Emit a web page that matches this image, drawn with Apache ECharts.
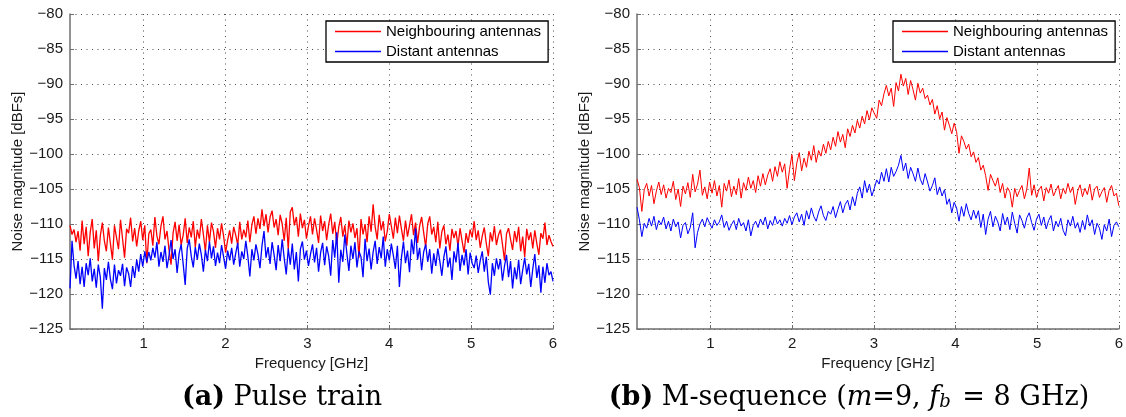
<!DOCTYPE html>
<html>
<head>
<meta charset="utf-8">
<script src="https://cdn.jsdelivr.net/npm/echarts@6/dist/echarts.min.js"></script>
<style>
  html, body { margin: 0; padding: 0; background: #fff; }
  #chart { width: 1126px; height: 417px; }
</style>
</head>
<body>
<div id="chart"></div>
<script>
// Frequency span of the measured spectra (GHz)
const FREQ_MIN = 0.1;
const FREQ_MAX = 6;
const freqTicks = [1, 2, 3, 4, 5, 6];

const seriesNames = ['Neighbouring antennas', 'Distant antennas'];

// (a) Pulse train — noise magnitude [dBFs], evenly spaced over the band
const pulseNeighbouring = [
  -110.2,-111.5,-110.8,-112.6,-111.0,-113.8,-109.5,-112.9,-110.4,-114.6,-111.2,-109.3,-113.5,-110.9,-115.3,-111.7,-109.8,-112.4,-113.9,-110.5,
  -112.8,-115.1,-110.2,-111.9,-113.6,-109.4,-112.1,-114.8,-110.7,-111.3,-109.1,-112.5,-110.6,-113.2,-111.0,-109.6,-112.3,-110.2,-115.6,-111.4,
  -110.8,-113.1,-109.0,-111.7,-112.9,-110.3,-108.9,-112.2,-111.0,-113.7,-115.8,-111.3,-109.7,-112.4,-110.1,-113.0,-111.6,-109.2,-112.7,-110.5,
  -111.9,-109.6,-113.3,-110.8,-112.1,-109.3,-111.5,-113.9,-110.2,-112.6,-109.8,-111.1,-113.4,-110.6,-112.2,-109.9,-111.7,-114.1,-112.3,-110.9,
  -112.8,-110.4,-111.6,-113.0,-109.7,-112.2,-110.8,-111.9,-109.5,-112.6,-110.1,-108.9,-111.4,-109.2,-110.7,-107.9,-110.3,-108.6,-111.2,-109.0,
  -108.1,-110.5,-109.3,-111.6,-108.7,-110.0,-112.4,-109.1,-113.6,-108.3,-107.6,-110.2,-109.0,-111.8,-108.5,-110.6,-109.4,-112.1,-110.3,-108.9,
  -111.5,-109.2,-110.8,-112.7,-108.8,-111.0,-109.6,-112.3,-110.1,-108.5,-111.4,-109.7,-112.9,-110.4,-109.0,-111.8,-110.2,-113.1,-109.5,-111.2,
  -109.9,-112.0,-110.6,-114.8,-109.3,-111.5,-110.0,-112.6,-108.9,-111.1,-107.2,-110.4,-112.2,-108.7,-110.9,-109.6,-112.5,-111.0,-108.6,-110.3,
  -112.1,-109.1,-111.3,-108.8,-110.7,-112.4,-109.5,-111.8,-110.2,-108.6,-111.6,-109.8,-112.7,-110.3,-109.0,-111.2,-113.3,-110.0,-108.9,-111.5,
  -110.4,-112.6,-109.7,-113.5,-111.1,-110.2,-112.9,-111.5,-113.8,-110.7,-112.0,-111.0,-113.2,-110.6,-112.4,-114.1,-111.3,-112.7,-110.8,-111.9,
  -109.6,-112.3,-110.9,-113.4,-111.7,-110.5,-112.8,-114.6,-111.2,-112.5,-110.3,-113.0,-111.6,-110.8,-112.9,-115.2,-111.4,-110.6,-112.2,-113.7,
  -111.0,-112.6,-110.4,-113.9,-111.8,-114.7,-110.7,-112.3,-111.2,-113.5,-110.9,-112.8,-114.4,-111.3,-112.1,-109.8,-113.0,-111.6,-112.5,-113.2
];
const pulseDistant = [
  -119.2,-112.4,-115.9,-117.8,-115.3,-118.6,-116.1,-119.0,-115.6,-117.3,-114.9,-118.2,-116.4,-119.1,-115.8,-117.6,-122.1,-116.3,-118.0,-115.4,
  -117.9,-119.3,-115.8,-118.5,-116.6,-117.4,-115.7,-118.9,-116.2,-117.1,-119.0,-116.0,-117.7,-115.1,-116.8,-114.3,-116.1,-113.9,-115.5,-114.0,
  -115.2,-113.4,-114.8,-112.6,-116.1,-114.0,-115.4,-113.1,-116.3,-114.5,-112.3,-115.0,-113.6,-117.0,-114.2,-112.9,-115.7,-118.7,-113.5,-112.2,
  -114.6,-116.2,-113.3,-115.1,-112.8,-114.4,-116.8,-113.7,-115.3,-112.5,-114.9,-113.2,-116.0,-114.1,-115.6,-113.0,-114.7,-116.4,-113.8,-115.2,
  -113.4,-115.8,-114.2,-112.7,-116.1,-113.9,-115.0,-112.4,-114.6,-117.5,-113.6,-115.2,-112.9,-114.3,-116.3,-113.1,-111.0,-114.8,-113.3,-115.7,
  -112.6,-114.4,-116.6,-113.0,-115.3,-112.2,-114.9,-117.2,-113.5,-115.8,-112.8,-116.5,-114.0,-118.2,-113.6,-112.5,-115.1,-113.8,-116.0,-114.3,
  -112.9,-115.5,-113.4,-116.8,-114.1,-112.7,-115.9,-113.2,-114.6,-117.4,-112.3,-114.8,-111.2,-118.4,-113.7,-115.4,-111.5,-114.2,-116.7,-113.1,
  -115.0,-112.6,-116.2,-113.9,-114.7,-117.6,-112.1,-115.3,-113.5,-116.5,-114.0,-112.4,-115.7,-113.3,-114.9,-111.8,-116.1,-113.6,-115.2,-112.8,
  -114.5,-116.4,-113.1,-119.0,-114.8,-112.5,-115.6,-113.8,-116.9,-112.2,-114.3,-110.6,-115.1,-113.4,-116.6,-114.0,-112.9,-115.4,-113.6,-117.1,
  -114.2,-116.0,-113.5,-115.3,-117.4,-114.7,-113.2,-116.2,-114.8,-118.0,-113.9,-115.5,-112.7,-116.7,-114.4,-115.9,-113.6,-117.2,-114.1,-115.6,
  -116.3,-114.5,-117.0,-115.2,-113.9,-116.8,-114.7,-118.3,-120.1,-115.6,-117.4,-114.9,-116.5,-115.0,-118.1,-116.0,-114.4,-117.6,-115.3,-119.2,
  -116.2,-117.9,-115.1,-118.6,-116.6,-114.8,-117.2,-115.7,-119.0,-116.4,-114.3,-117.7,-115.9,-119.8,-116.1,-118.4,-115.6,-117.3,-116.8,-118.2
];

// (b) M-sequence (m = 9, fb = 8 GHz) — noise magnitude [dBFs]
const mseqNeighbouring = [
  -103.6,-104.8,-108.2,-105.1,-104.2,-106.0,-104.5,-107.1,-105.3,-104.0,-105.8,-104.4,-106.3,-104.9,-105.5,-103.9,-106.5,-105.0,-107.5,-104.6,
  -105.7,-104.1,-106.2,-102.9,-105.4,-104.3,-102.3,-105.9,-104.7,-106.4,-104.0,-105.6,-103.8,-106.0,-104.5,-107.6,-104.2,-105.3,-103.7,-106.1,
  -104.6,-105.8,-103.5,-106.3,-104.1,-105.2,-103.3,-104.9,-103.8,-105.5,-103.1,-104.6,-102.8,-104.4,-103.0,-102.1,-103.9,-101.8,-103.2,-101.1,
  -102.6,-101.4,-104.9,-102.2,-100.1,-103.8,-101.3,-99.8,-102.4,-100.6,-101.9,-99.6,-100.9,-98.8,-101.2,-99.5,-100.3,-98.6,-99.9,-98.2,
  -99.4,-97.6,-98.9,-96.8,-98.3,-97.2,-99.1,-96.4,-97.5,-95.9,-97.0,-95.2,-96.3,-94.6,-95.7,-93.8,-95.1,-93.4,-94.2,-94.9,
  -92.3,-93.1,-91.4,-90.2,-91.7,-90.6,-93.2,-89.8,-91.0,-88.6,-90.3,-89.2,-91.5,-89.5,-90.8,-92.3,-89.9,-91.3,-90.6,-92.1,
  -91.6,-93.0,-92.2,-94.3,-93.1,-95.0,-94.0,-96.6,-94.8,-95.9,-97.1,-95.6,-96.8,-99.9,-97.4,-98.2,-99.3,-98.6,-100.4,-99.7,
  -101.2,-100.5,-102.3,-101.6,-103.1,-105.2,-102.9,-103.8,-104.6,-103.4,-105.5,-104.2,-106.3,-104.8,-105.4,-107.6,-104.9,-106.1,-105.2,-104.5,
  -106.4,-105.0,-102.0,-105.9,-104.4,-106.2,-105.1,-104.6,-106.7,-104.8,-105.6,-104.3,-106.0,-105.2,-104.5,-106.4,-104.9,-105.7,-104.2,-105.5,
  -104.7,-107.2,-105.3,-104.4,-106.1,-104.9,-105.8,-104.3,-106.6,-105.0,-104.6,-106.2,-105.4,-104.8,-106.9,-105.2,-104.5,-106.0,-105.6,-107.4
];
const mseqDistant = [
  -107.6,-109.4,-111.8,-109.9,-110.6,-109.2,-110.3,-108.9,-110.8,-109.5,-110.1,-109.0,-110.7,-109.6,-111.0,-109.3,-110.4,-109.7,-112.0,-110.2,
  -109.8,-111.4,-110.5,-108.4,-113.4,-111.2,-110.0,-109.3,-110.4,-109.1,-109.9,-110.6,-109.4,-110.2,-109.7,-108.7,-110.5,-109.6,-110.9,-110.1,
  -109.5,-110.8,-109.2,-110.3,-109.8,-111.0,-109.4,-111.7,-110.2,-109.6,-110.5,-109.3,-110.1,-109.0,-110.7,-109.5,-110.2,-108.9,-110.0,-109.4,
  -110.3,-109.2,-109.9,-108.8,-110.1,-109.0,-108.4,-109.7,-108.6,-110.2,-108.1,-109.3,-107.7,-108.9,-109.6,-108.3,-107.4,-108.8,-109.5,-108.2,
  -108.6,-107.5,-109.1,-107.9,-106.8,-108.4,-107.2,-106.6,-108.0,-106.1,-107.4,-105.6,-104.7,-106.3,-103.8,-105.5,-104.3,-106.0,-104.9,-103.7,
  -104.3,-102.6,-103.9,-102.1,-104.0,-101.9,-103.2,-102.5,-101.6,-100.2,-102.4,-101.3,-103.5,-101.9,-102.8,-103.9,-102.0,-103.6,-104.4,-102.8,
  -104.0,-105.3,-104.5,-103.4,-105.8,-104.7,-106.0,-105.1,-107.2,-106.4,-108.4,-106.9,-107.7,-109.6,-107.5,-108.9,-107.1,-108.5,-109.4,-108.0,
  -109.2,-108.1,-110.5,-108.6,-111.5,-109.3,-108.2,-110.4,-108.9,-109.7,-111.0,-108.5,-110.1,-109.0,-110.8,-108.3,-109.9,-111.3,-108.7,-109.5,
  -110.6,-109.1,-108.4,-109.8,-110.9,-109.3,-108.6,-110.2,-109.0,-110.7,-109.5,-108.8,-111.0,-109.6,-110.4,-109.2,-110.9,-111.7,-109.4,-110.3,
  -108.9,-110.6,-109.8,-111.2,-109.5,-110.8,-108.7,-110.3,-109.4,-111.5,-109.9,-110.6,-112.2,-110.1,-111.0,-109.3,-111.8,-110.2,-109.7,-110.4
];

// Pair each sample with its frequency bin
function withFrequency(values) {
  const n = values.length;
  return values.map((v, i) => [FREQ_MIN + i * (FREQ_MAX - FREQ_MIN) / (n - 1), v]);
}

const AXIS_FONT = 'Liberation Sans, Arial, Helvetica, sans-serif';
const TEXT_COLOR = '#1a1a1a';
const AXIS_COLOR = '#6e6e6e';
const GRID_DOTS = { color: '#4a4a4a', width: 1, type: [1, 4.5] };
const minusSign = v => String(v).replace('-', '\u2212');

function xAxisFor(gridIndex) {
  return {
    type: 'value', gridIndex: gridIndex, min: FREQ_MIN, max: FREQ_MAX,
    name: 'Frequency [GHz]', nameLocation: 'middle', nameGap: 25,
    nameTextStyle: { fontFamily: AXIS_FONT, fontSize: 15, color: TEXT_COLOR },
    axisLine: { show: true, onZero: false, lineStyle: { color: AXIS_COLOR, width: 1.5 } },
    axisTick: { show: true, inside: true, length: 4, customValues: freqTicks, lineStyle: { color: AXIS_COLOR } },
    axisLabel: { customValues: freqTicks, margin: 7, fontFamily: AXIS_FONT, fontSize: 15, color: TEXT_COLOR, formatter: minusSign },
    splitLine: { show: true, lineStyle: GRID_DOTS }
  };
}

function yAxisFor(gridIndex) {
  return {
    type: 'value', gridIndex: gridIndex, min: -125, max: -80, interval: 5,
    name: 'Noise magnitude [dBFs]', nameLocation: 'middle', nameGap: 44, nameRotate: 90,
    nameTextStyle: { fontFamily: AXIS_FONT, fontSize: 15, color: TEXT_COLOR },
    axisLine: { show: true, onZero: false, lineStyle: { color: AXIS_COLOR, width: 1.5 } },
    axisTick: { show: true, inside: true, length: 4, lineStyle: { color: AXIS_COLOR } },
    axisLabel: { margin: 7, fontFamily: AXIS_FONT, fontSize: 15, color: TEXT_COLOR, formatter: minusSign },
    splitLine: { show: true, lineStyle: GRID_DOTS }
  };
}

function legendFor(left) {
  return {
    left: left, top: 21, orient: 'vertical',
    data: seriesNames,
    icon: 'rect', itemWidth: 46, itemHeight: 1.3, itemGap: 5,
    padding: [3, 7, 3, 9],
    backgroundColor: '#fff', borderColor: '#000', borderWidth: 1.3, borderRadius: 0,
    textStyle: { fontFamily: AXIS_FONT, fontSize: 15, color: '#000' },
    selectedMode: false
  };
}

function lineSeries(name, values, color, axisIndex, width) {
  return {
    type: 'line', name: name, data: withFrequency(values),
    xAxisIndex: axisIndex, yAxisIndex: axisIndex,
    showSymbol: false, symbol: 'none', animation: false,
    color: color, lineStyle: { color: color, width: width }
  };
}

// Sub-figure captions (serif, bold label + math-style italics)
const CAPTION_FONT = 'DejaVu Serif, Liberation Serif, serif';
const captionRich = {
  b: { fontFamily: CAPTION_FONT, fontSize: 27, fontWeight: 'bold', fill: '#000' },
  r: { fontFamily: CAPTION_FONT, fontSize: 27, fill: '#000' },
  i: { fontFamily: CAPTION_FONT, fontSize: 27, fontStyle: 'italic', fill: '#000' },
  sub: { fontFamily: CAPTION_FONT, fontSize: 18, fontStyle: 'italic', fill: '#000', verticalAlign: 'bottom', padding: [0, 3, 0, 0] }
};

const chart = echarts.init(document.getElementById('chart'), null, { renderer: 'canvas' });
chart.setOption({
  backgroundColor: '#fff',
  animation: false,
  grid: [
    { left: 70, top: 14, width: 483, height: 315 },
    { left: 637, top: 14, width: 482, height: 315 }
  ],
  xAxis: [xAxisFor(0), xAxisFor(1)],
  yAxis: [yAxisFor(0), yAxisFor(1)],
  legend: [legendFor(326), legendFor(893)],
  series: [
    lineSeries(seriesNames[0], pulseNeighbouring, '#ff0000', 0, 1.3),
    lineSeries(seriesNames[1], pulseDistant, '#0000ff', 0, 1.3),
    lineSeries(seriesNames[0], mseqNeighbouring, '#ff0000', 1, 1),
    lineSeries(seriesNames[1], mseqDistant, '#0000ff', 1, 1)
  ],
  graphic: [
    {
      type: 'text', x: 282, y: 398,
      style: {
        text: '{b|(a)}{r| Pulse train}', rich: captionRich,
        align: 'center', verticalAlign: 'middle'
      }
    },
    {
      type: 'text', x: 849, y: 398,
      style: {
        text: '{b|(b)}{r| M-sequence (}{i|m}{r|=9, }{i|f}{sub|b}{r| = 8 GHz)}', rich: captionRich,
        align: 'center', verticalAlign: 'middle'
      }
    }
  ]
});
</script>
</body>
</html>
